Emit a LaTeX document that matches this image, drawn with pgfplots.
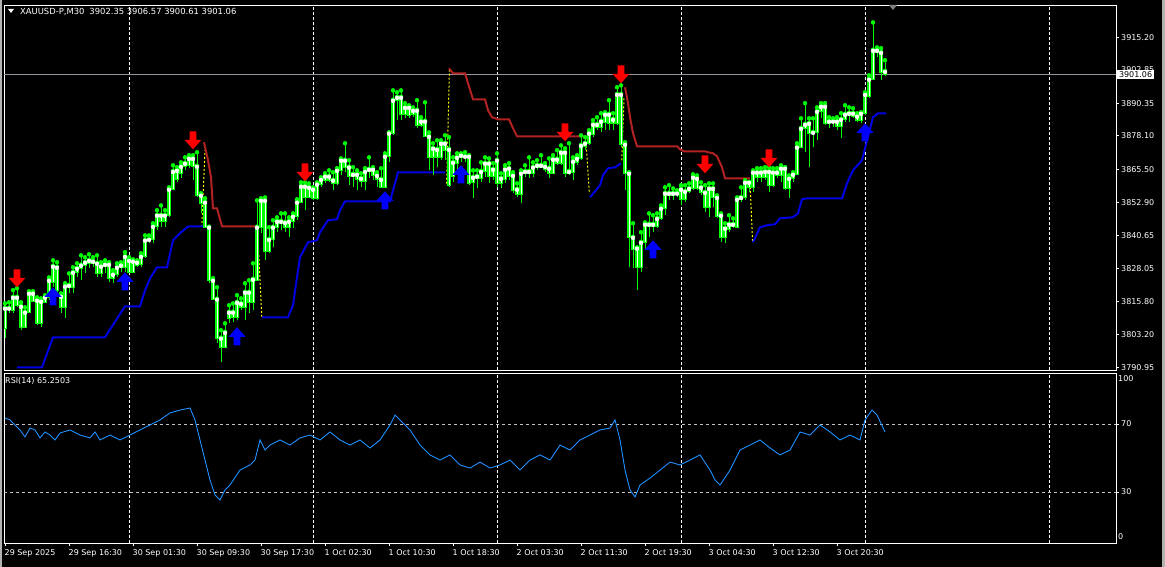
\documentclass[border=0pt]{standalone}
\usepackage{pgfplots}
\pgfplotsset{compat=1.18}
\usepackage{pgfplotstable}
\usepackage{fontspec}
\setmainfont{DejaVu Sans}
\definecolor{cgreen}{RGB}{0,255,0}
\definecolor{redline}{RGB}{178,34,34}
\definecolor{blueline}{RGB}{0,0,225}
\definecolor{rsiblue}{RGB}{30,144,255}
\definecolor{arrred}{RGB}{255,0,0}
\definecolor{arrblue}{RGB}{0,0,255}
\definecolor{lvlgray}{RGB}{192,192,192}
\definecolor{pricegray}{RGB}{150,150,160}
\definecolor{yel}{RGB}{255,255,0}

\pgfdeclareplotmark{dnarrow}{%
 \pgfpathmoveto{\pgfpoint{-3.3bp}{9bp}}%
 \pgfpathlineto{\pgfpoint{3.3bp}{9bp}}%
 \pgfpathlineto{\pgfpoint{3.3bp}{0.5bp}}%
 \pgfpathlineto{\pgfpoint{8.5bp}{0.5bp}}%
 \pgfpathlineto{\pgfpoint{0bp}{-9bp}}%
 \pgfpathlineto{\pgfpoint{-8.5bp}{0.5bp}}%
 \pgfpathlineto{\pgfpoint{-3.3bp}{0.5bp}}%
 \pgfpathclose\pgfusepathqfill}
\pgfdeclareplotmark{uparrow}{%
 \pgfpathmoveto{\pgfpoint{-3.3bp}{-9bp}}%
 \pgfpathlineto{\pgfpoint{3.3bp}{-9bp}}%
 \pgfpathlineto{\pgfpoint{3.3bp}{-0.5bp}}%
 \pgfpathlineto{\pgfpoint{8.5bp}{-0.5bp}}%
 \pgfpathlineto{\pgfpoint{0bp}{9bp}}%
 \pgfpathlineto{\pgfpoint{-8.5bp}{-0.5bp}}%
 \pgfpathlineto{\pgfpoint{-3.3bp}{-0.5bp}}%
 \pgfpathclose\pgfusepathqfill}

\pgfplotstableread{
i o h l c
0 3805.6 3815.0 3801.9 3813.2
1 3813.2 3815.4 3811.3 3812.8
2 3812.4 3820.0 3811.3 3817.3
3 3817.3 3820.7 3813.5 3814.3
4 3813.9 3815.4 3804.9 3806.0
5 3806.0 3813.5 3805.6 3811.7
6 3811.7 3819.6 3811.3 3818.8
7 3818.8 3819.6 3815.4 3815.8
8 3816.2 3817.3 3806.8 3807.5
9 3807.5 3816.9 3806.0 3815.8
10 3815.4 3818.1 3815.0 3817.3
11 3817.3 3824.8 3816.2 3823.7
12 3823.0 3831.2 3821.1 3829.0
13 3828.6 3830.5 3817.3 3820.0
14 3817.7 3818.8 3811.3 3813.5
15 3813.5 3822.6 3809.4 3821.5
16 3821.1 3826.3 3818.8 3821.8
17 3821.1 3828.6 3818.8 3826.7
18 3826.7 3830.1 3824.8 3828.2
19 3828.2 3833.1 3823.7 3829.4
20 3829.4 3832.4 3826.3 3830.5
21 3830.1 3833.5 3828.2 3831.2
22 3830.9 3832.4 3828.6 3830.1
23 3830.1 3833.1 3824.8 3826.3
24 3826.3 3830.5 3824.8 3829.0
25 3829.0 3831.2 3826.3 3829.7
26 3829.7 3830.5 3823.0 3824.5
27 3824.5 3827.5 3822.6 3826.0
28 3826.0 3830.1 3824.8 3828.6
29 3828.6 3830.5 3826.7 3829.4
30 3828.6 3834.3 3826.7 3832.7
31 3831.2 3832.4 3826.3 3826.7
32 3826.7 3831.6 3826.3 3830.9
33 3830.5 3831.2 3828.6 3829.4
34 3829.7 3833.9 3828.6 3832.7
35 3832.7 3840.6 3832.0 3838.8
36 3838.8 3840.6 3837.6 3839.1
37 3839.1 3845.2 3837.6 3844.0
38 3844.0 3850.1 3842.5 3848.2
39 3848.2 3851.9 3843.7 3845.9
40 3845.9 3850.1 3843.7 3848.2
41 3848.2 3858.7 3847.4 3858.0
42 3858.0 3867.0 3857.6 3864.7
43 3865.1 3866.3 3860.6 3861.7
44 3864.0 3868.1 3862.1 3866.6
45 3866.6 3870.0 3865.1 3867.8
46 3867.0 3870.8 3865.9 3869.6
47 3869.6 3870.8 3861.4 3866.6
48 3866.6 3871.9 3855.0 3855.7
49 3855.7 3856.5 3848.9 3852.7
50 3853.1 3854.6 3843.3 3843.7
51 3843.7 3843.7 3822.6 3823.7
52 3823.7 3824.5 3816.2 3816.6
53 3816.6 3821.1 3800.0 3801.9
54 3801.9 3804.9 3792.8 3798.5
55 3798.5 3807.5 3798.1 3804.1
56 3809.4 3814.3 3807.5 3811.7
57 3811.7 3815.0 3807.9 3809.8
58 3809.8 3818.1 3808.7 3815.4
59 3815.0 3816.9 3812.4 3813.5
60 3813.5 3822.6 3808.7 3819.2
61 3819.2 3823.7 3811.3 3815.4
62 3815.4 3830.1 3812.4 3824.1
63 3823.7 3853.8 3823.7 3843.7
64 3843.7 3854.6 3841.4 3853.8
65 3853.8 3854.9 3831.2 3834.6
66 3834.6 3843.7 3833.9 3839.1
67 3839.1 3846.3 3836.1 3843.7
68 3843.7 3847.4 3841.8 3845.9
69 3845.9 3848.9 3842.5 3845.2
70 3845.5 3848.9 3841.8 3843.7
71 3843.7 3847.4 3839.9 3845.9
72 3845.9 3848.9 3843.3 3847.8
73 3847.8 3854.2 3846.3 3853.1
74 3853.1 3860.6 3852.7 3859.1
75 3859.1 3860.6 3850.1 3854.9
76 3854.9 3860.2 3854.6 3858.7
77 3858.0 3858.7 3853.8 3854.6
78 3854.6 3860.6 3853.8 3859.9
79 3859.9 3862.5 3858.7 3861.7
80 3861.4 3864.0 3860.2 3862.9
81 3862.9 3865.1 3860.6 3861.4
82 3861.4 3864.4 3857.6 3860.2
83 3860.2 3865.9 3859.5 3865.1
84 3865.1 3869.6 3863.2 3868.9
85 3868.9 3875.3 3864.4 3866.3
86 3866.3 3868.9 3859.5 3862.9
87 3862.9 3866.3 3858.7 3863.6
88 3863.6 3865.1 3857.6 3861.7
89 3862.1 3864.0 3858.7 3861.0
90 3861.0 3865.9 3857.6 3864.7
91 3864.7 3870.0 3862.1 3865.5
92 3865.5 3866.3 3861.4 3863.2
93 3863.2 3864.4 3858.7 3861.7
94 3861.7 3865.9 3858.3 3858.7
95 3858.7 3871.5 3858.3 3870.4
96 3870.4 3879.4 3868.1 3879.1
97 3879.1 3895.2 3878.3 3891.5
98 3891.5 3894.5 3884.0 3892.6
99 3892.6 3895.2 3884.0 3886.2
100 3886.2 3890.4 3884.7 3888.8
101 3888.8 3889.6 3884.7 3885.8
102 3886.2 3888.8 3885.1 3887.7
103 3887.7 3891.5 3880.9 3882.1
104 3882.1 3885.1 3881.3 3883.6
105 3883.6 3890.7 3877.6 3877.9
106 3877.9 3879.4 3865.1 3870.0
107 3870.0 3875.3 3863.2 3873.4
108 3873.0 3876.4 3866.3 3870.0
109 3870.0 3876.4 3868.9 3875.3
110 3875.3 3878.3 3868.9 3872.7
111 3873.0 3877.6 3858.7 3859.5
112 3862.9 3870.0 3860.6 3868.1
113 3867.8 3871.5 3865.1 3870.0
114 3870.0 3871.5 3868.1 3870.8
115 3870.4 3871.9 3868.1 3870.0
116 3870.4 3870.8 3859.5 3860.2
117 3860.6 3865.1 3854.6 3862.5
118 3862.9 3865.1 3858.3 3862.1
119 3862.1 3868.1 3860.6 3864.7
120 3864.7 3870.0 3862.5 3867.8
121 3867.8 3869.6 3860.2 3862.9
122 3862.9 3867.8 3861.4 3865.5
123 3868.9 3871.5 3858.7 3860.2
124 3860.2 3864.0 3858.3 3862.1
125 3861.7 3867.0 3860.2 3865.5
126 3865.9 3867.8 3861.4 3862.9
127 3863.2 3864.4 3856.5 3857.6
128 3858.0 3860.2 3855.0 3856.1
129 3856.1 3865.1 3852.7 3864.0
130 3864.0 3867.0 3862.5 3864.7
131 3864.7 3870.0 3862.1 3864.0
132 3864.0 3868.1 3862.5 3866.3
133 3866.3 3868.9 3865.1 3867.0
134 3867.0 3870.8 3865.9 3866.3
135 3866.6 3867.8 3864.4 3865.5
136 3865.9 3869.6 3862.1 3864.0
137 3864.0 3870.8 3864.0 3869.3
138 3869.3 3872.7 3867.0 3867.8
139 3867.8 3874.5 3867.0 3871.9
140 3871.9 3873.4 3862.5 3864.0
141 3864.0 3875.3 3863.2 3864.7
142 3864.4 3870.0 3861.4 3868.5
143 3868.1 3870.8 3867.0 3869.6
144 3869.6 3878.3 3868.9 3874.5
145 3874.2 3877.6 3872.7 3875.3
146 3875.3 3880.2 3874.5 3879.1
147 3878.7 3884.0 3877.6 3882.4
148 3882.4 3885.1 3880.2 3881.3
149 3881.3 3886.6 3879.4 3883.6
150 3883.2 3887.0 3880.2 3886.2
151 3886.2 3891.5 3880.2 3882.8
152 3882.8 3886.6 3880.2 3884.3
153 3882.8 3896.4 3882.1 3893.7
154 3893.7 3897.1 3873.8 3874.9
155 3874.9 3875.7 3857.6 3864.0
156 3864.0 3864.4 3828.6 3839.9
157 3839.9 3845.2 3828.2 3835.4
158 3835.8 3836.1 3819.9 3828.6
159 3828.6 3841.8 3826.7 3838.0
160 3838.0 3845.5 3835.0 3844.8
161 3844.8 3848.9 3839.9 3844.0
162 3844.0 3848.2 3841.8 3844.8
163 3844.0 3848.9 3843.3 3847.0
164 3847.0 3851.9 3846.3 3850.8
165 3850.8 3858.7 3848.2 3856.5
166 3856.5 3859.5 3853.8 3855.7
167 3855.7 3858.3 3853.8 3856.5
168 3856.1 3857.6 3854.9 3856.5
169 3858.0 3859.5 3852.0 3854.2
170 3854.2 3859.5 3853.1 3857.2
171 3857.2 3860.2 3856.5 3858.3
172 3858.3 3863.6 3857.6 3862.5
173 3862.1 3863.2 3857.6 3858.3
174 3858.7 3860.6 3855.7 3856.8
175 3856.8 3859.5 3849.3 3851.2
176 3851.2 3860.2 3847.4 3858.3
177 3858.3 3860.2 3851.2 3854.9
178 3854.9 3855.7 3847.0 3847.8
179 3848.2 3848.9 3838.0 3839.9
180 3839.9 3845.2 3837.6 3843.3
181 3842.9 3848.2 3841.8 3844.8
182 3844.8 3847.0 3843.3 3844.0
183 3843.7 3854.9 3843.3 3854.2
184 3854.2 3858.7 3853.1 3854.9
185 3854.9 3861.4 3853.8 3860.6
186 3860.6 3860.6 3856.8 3858.7
187 3858.7 3865.1 3856.8 3864.4
188 3864.4 3865.9 3860.6 3862.5
189 3862.5 3865.9 3860.6 3864.4
190 3864.7 3866.3 3861.4 3862.5
191 3864.7 3866.3 3856.8 3859.5
192 3859.5 3865.9 3858.7 3864.4
193 3864.4 3865.9 3862.1 3863.2
194 3863.2 3867.0 3860.6 3865.9
195 3865.9 3866.3 3857.6 3858.3
196 3858.3 3863.2 3854.6 3862.1
197 3862.1 3864.4 3860.6 3863.6
198 3863.6 3875.3 3863.2 3873.8
199 3873.8 3884.7 3873.4 3880.9
200 3880.9 3890.4 3871.9 3882.4
201 3882.8 3884.7 3866.3 3879.1
202 3879.4 3884.7 3873.8 3879.1
203 3879.4 3888.8 3876.4 3887.3
204 3887.3 3890.4 3884.7 3889.2
205 3889.2 3890.4 3882.1 3882.8
206 3882.8 3885.1 3880.9 3883.6
207 3883.6 3884.7 3881.3 3883.2
208 3883.6 3885.1 3880.2 3881.7
209 3881.7 3886.6 3877.2 3884.3
210 3884.3 3889.6 3883.2 3886.2
211 3886.6 3888.8 3883.2 3885.8
212 3886.6 3888.5 3884.7 3885.5
213 3885.5 3886.6 3883.2 3883.9
214 3883.9 3887.0 3882.8 3886.6
215 3886.6 3894.5 3885.8 3893.7
216 3893.0 3900.9 3892.2 3899.4
217 3899.4 3920.8 3899.0 3910.3
218 3910.3 3911.4 3907.7 3909.5
219 3909.5 3911.1 3899.0 3902.0
220 3902.35 3906.57 3900.61 3901.06
}\candles

\pgfplotsset{common/.style={
  scale only axis, width=1112bp, xmin=-0.25, xmax=277.75, enlargelimits=false,
  axis line style={white, line width=0.8bp},
  tick style={white, line width=0.8bp}, major tick length=3bp, tick align=outside,
  every tick label/.append style={text=white, font=\fontsize{8bp}{9.6bp}\selectfont},
  extra x ticks={31,77,123,169,215,261}, extra x tick labels={},
  extra x tick style={grid=major, major tick length=0pt},
  major grid style={white, line width=0.8bp, dash pattern=on 3bp off 2bp},
  ytick pos=right, yticklabel pos=right,
  yticklabel style={anchor=west, inner sep=0pt, xshift=2bp},
}}

\begin{document}
\begin{tikzpicture}[x=1bp,y=1bp]
\fill[black] (0,0) rectangle (1165,567);
\useasboundingbox (0,0) rectangle (1165,567);
\fill[gray!60] (0,0) rectangle (2,567);
\fill[gray!60] (1162,0) rectangle (1165,567);

\begin{axis}[common, at={(4bp,196.7bp)}, anchor=south west, height=365.3bp,
  ymin=3789.82, ymax=3927.36, xtick=\empty,
  ytick={3790.95,3803.20,3815.80,3828.05,3840.65,3852.90,3865.50,3878.10,3890.35,3902.85,3915.20},
  yticklabels={3790.95,3803.20,3815.80,3828.05,3840.65,3852.90,3865.50,3878.10,3890.35,3902.85,3915.20}]
\addplot[pricegray, line width=0.8bp] coordinates {(-0.25,3901.06) (277.75,3901.06)};
% switch connectors
\addplot[yel, line width=1bp, dash pattern=on 2bp off 2bp] coordinates {(49.2,3843.8) (50,3872.7)};
\addplot[yel, line width=1bp, dash pattern=on 2bp off 2bp] coordinates {(63.1,3843.8) (64.2,3809.9)};
\addplot[yel, line width=1bp, dash pattern=on 2bp off 2bp] coordinates {(110.4,3860.1) (111.1,3902.8)};
\addplot[yel, line width=1bp, dash pattern=on 2bp off 2bp] coordinates {(145.2,3877.4) (146.1,3856.3)};
\addplot[yel, line width=1bp, dash pattern=on 2bp off 2bp] coordinates {(154.2,3868.9) (154.75,3892.7)};
\addplot[yel, line width=1bp, dash pattern=on 2bp off 2bp] coordinates {(186.25,3860.3) (186.9,3838.1)};
% support line (blue)
\addplot[blueline, line width=2bp] coordinates {(3,3790.95) (9.25,3790.95) (12,3802.25) (25,3802.25) (30,3813.92) (33.75,3813.92) (35,3819.9) (36.25,3824.4) (38,3828.60) (40.5,3828.60) (42,3838.77) (43.75,3841.40) (45.5,3843.7) (46.25,3844.04) (49.5,3844.04)};
\addplot[blueline, line width=2bp] coordinates {(64.25,3809.78) (70.75,3809.78) (72,3814.30) (73,3824.84) (73.75,3832.37) (75.75,3838.02) (78,3838.77) (78.75,3841.78) (80.75,3846.30) (83,3846.68) (83.75,3850.07) (85,3853.46) (96.25,3853.46) (97,3857.60) (98.25,3864.37) (110,3864.37)};
\addplot[blueline, line width=2bp] coordinates {(146.25,3854.96) (148.75,3859.48) (149.5,3863.25) (150.75,3865.88) (152.5,3866.25) (154,3867.76)};
\addplot[blueline, line width=2bp] coordinates {(187,3838.02) (188.75,3843.66) (190.5,3844.42) (192.5,3844.79) (193.75,3847.05) (197,3847.43) (198.25,3848.93) (199.25,3854.21) (200.5,3854.58) (209.25,3854.58) (210.5,3860.23) (212,3865.13) (214.25,3868.89) (215.5,3876.42) (217,3885.08) (218.25,3886.59) (220.25,3886.59)};
% resistance line (red)
\addplot[redline, line width=2bp] coordinates {(49.75,3875.67) (50.75,3868.89) (51.5,3862.49) (52,3850.82) (53,3850.82) (54.25,3844.04) (63,3844.04)};
\addplot[redline, line width=2bp] coordinates {(111,3903.53) (112,3901.65) (115,3901.65) (115.75,3897.88) (117,3891.86) (120,3891.86) (120.75,3887.72) (121.75,3885.08) (123.25,3884.33) (126,3884.33) (127,3880.94) (128,3877.93) (145,3877.93)};
\addplot[redline, line width=2bp] coordinates {(155,3896.37) (155.75,3890.35) (156.25,3885.08) (157,3879.06) (158,3874.16) (168,3874.16) (168.75,3873.03) (169.75,3872.28) (175,3872.28) (175.75,3871.90) (177,3871.53) (178,3870.40) (179.25,3866.25) (180,3862.11) (186.25,3862.11)};
% candles: wicks, bodies
\addplot[cgreen, only marks, mark=none, error bars/.cd, y dir=minus, y explicit, error mark=none,
  error bar style={cgreen, line width=1bp}]
  table[x=i, y=h, y error minus expr=\thisrow{h}-\thisrow{l}] {\candles};
\addplot[cgreen, only marks, mark=none, error bars/.cd, y dir=minus, y explicit, error mark=none,
  error bar style={cgreen, line width=3.4bp}]
  table[x=i, y expr={max(\thisrow{o},\thisrow{c})+0.2}, y error minus expr={abs(\thisrow{o}-\thisrow{c})+0.4}] {\candles};
\addplot[white, only marks, mark=none, error bars/.cd, y dir=minus, y explicit, error mark=none,
  error bar style={white, line width=0.8bp}]
  table[x=i, y expr={max(\thisrow{o},\thisrow{c})-0.2}, y error minus expr={max(abs(\thisrow{o}-\thisrow{c})-0.4,0.05)}] {\candles};
% signal arrows
\addplot[arrred, only marks, mark=dnarrow] coordinates {(3,3824.46) (47,3876.42) (75,3864.37) (140,3879.43) (154,3901.27) (175,3867.38) (191,3869.64)};
\addplot[arrblue, only marks, mark=uparrow] coordinates {(12,3817.69) (30,3823.33) (58,3802.63) (95,3853.83) (114,3863.62) (162,3835.38) (215,3879.43)};
\coordinate (cp) at (axis cs:277.75,3901.06);
\end{axis}

\node[fill=white, text=black, anchor=west, inner xsep=1.8bp, inner ysep=1.5bp, font=\fontsize{8bp}{9.6bp}\selectfont] at ([xshift=1bp]cp) {3901.06};
\fill[white] (8,558) -- (14,558) -- (11,554) -- cycle;
\node[anchor=base west, text=white, inner sep=0pt, font=\fontsize{8.4bp}{10bp}\selectfont] at (20,552.5) {XAUUSD-P,M30\hspace{5bp}3902.35 3906.57 3900.61 3901.06};
\fill[gray] (889,562) -- (897,562) -- (893,557) -- cycle;

\begin{axis}[common, at={(4bp,24bp)}, anchor=south west, height=170bp,
  ymin=0, ymax=100,
  xtick={0,16,...,208}, xtick pos=bottom,
  xticklabels={29 Sep 2025,29 Sep 16:30,30 Sep 01:30,30 Sep 09:30,30 Sep 17:30,1 Oct 02:30,1 Oct 10:30,1 Oct 18:30,2 Oct 03:30,2 Oct 11:30,2 Oct 19:30,3 Oct 04:30,3 Oct 12:30,3 Oct 20:30},
  xticklabel style={anchor=north west, inner sep=0pt, yshift=-3bp, xshift=-0.5bp},
  ytick={30,70}, yticklabels={30,70},
  extra y ticks={3.5,96.5}, extra y tick labels={0,100},
  extra y tick style={major tick length=0pt}]
\addplot[lvlgray, line width=0.8bp, dash pattern=on 3bp off 3bp] coordinates {(-0.25,70) (277.75,70)};
\addplot[lvlgray, line width=0.8bp, dash pattern=on 3bp off 3bp] coordinates {(-0.25,30) (277.75,30)};
\addplot[rsiblue, line width=0.9bp] coordinates {
(0,73.5) (1.25,72.4) (2.5,69.4) (3.75,66.5) (5,62.4) (6.25,67.6) (7.5,66.5) (8.75,61.8) (10,65.3) (11.25,63.5) (12.5,60.6) (13.75,64.7) (16.25,66.5) (18.75,63.5) (21.25,61.8) (22.5,65.3) (23.75,60.6) (26.25,63.5) (28.75,60.6) (31.25,63.5) (33.75,66.5) (36.25,69.4) (38.75,72.4) (41.25,76.5) (43.75,78.2) (46.25,79.4) (47.5,72.4) (48.75,60.6) (50,48.8) (51.25,37.1) (52.5,28.2) (53.75,25.3) (55,31.2) (56.25,34.1) (58.75,42.9) (61.25,45.9) (62.5,48.8) (63.75,60.6) (65,54.7) (66.25,57.6) (68.75,60.6) (71.25,57.6) (73.75,61.8) (76.25,63.5) (78.75,60.6) (81.25,65.3) (83.75,60.6) (86.25,57.6) (88.75,60.6) (91.25,55.9) (93.75,60.6) (96.25,69.4) (97.5,75.3) (98.75,72.4) (101.25,66.5) (103.75,57.6) (106.25,51.8) (108.75,48.8) (111.25,51.8) (113.75,45.9) (116.25,44.1) (118.75,47.6) (121.25,44.1) (123.75,45.9) (126.25,48.8) (128.75,42.9) (131.25,48.8) (133.75,51.8) (136.25,48.8) (138.75,57.6) (141.25,54.7) (143.75,60.6) (146.25,63.5) (148.75,66.5) (151.25,67.6) (152.5,72.4) (153.75,60.6) (155,42.9) (156.25,31.2) (157.5,27.1) (158.75,34.1) (161.25,38.2) (163.75,42.9) (166.25,47.6) (168.75,45.9) (171.25,48.8) (173.75,51.8) (176.25,42.9) (177.5,37.1) (178.75,34.1) (181.25,42.9) (183.75,54.7) (186.25,57.6) (188.75,60.6) (191.25,55.9) (193.75,51.8) (196.25,54.7) (198.75,65.3) (201.25,63.5) (203.75,69.4) (206.25,65.3) (208.75,60.6) (211.25,63.5) (213.75,60.6) (215,72.4) (216.75,78.2) (218,75.3) (220,65.25)};
\end{axis}
\node[anchor=base west, text=white, inner sep=0pt, font=\fontsize{8bp}{9.6bp}\selectfont] at (5,183) {RSI(14) 65.2503};
\end{tikzpicture}
\end{document}
